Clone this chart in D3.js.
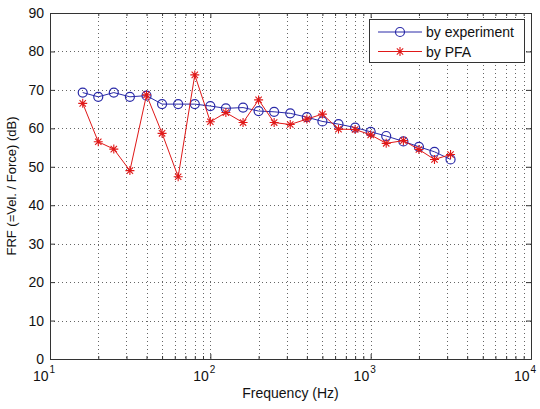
<!DOCTYPE html>
<html><head><meta charset="utf-8">
<script src="https://cdn.jsdelivr.net/npm/d3@7"></script>
<style>body{margin:0;background:#fff}text{font-family:"Liberation Sans",Arial,sans-serif}</style>
</head><body><svg id="c" width="540" height="409"></svg>
<script>
const freqs = [16,20,25,31.5,40,50,63,80,100,125,160,200,250,315,400,500,630,800,1000,1250,1600,2000,2500,3150];
const experiment = [69.3,68.2,69.3,68.2,68.5,66.3,66.3,66.3,65.8,65.2,65.4,64.5,64.3,63.9,62.9,61.8,61.1,60.2,59.1,58.0,56.6,55.2,53.9,51.9];
const pfa = [66.5,56.5,54.6,49.0,68.7,58.7,47.4,73.9,61.7,64.1,61.5,67.4,61.5,61.0,62.4,63.7,59.8,59.7,58.3,56.1,56.8,54.5,51.9,53.2];
const yTicks = [0,10,20,30,40,50,60,70,80,90];
const xMajor = [10,100,1000,10000];
const xExps = ["1","2","3","4"];
const seriesNames = ["by experiment","by PFA"];
const colors = ["#2a2aa8","#e01818"];

const L=50,R=531,T=13,B=359;
const svg=d3.select("#c");
const x=d3.scaleLog().domain([10,10000]).range([L,R]);
const y=d3.scaleLinear().domain([0,90]).range([B,T]);
const xMinor=[];
[10,100,1000].forEach(d=>{for(let k=2;k<=9;k++)xMinor.push(d*k);});

const grid=svg.append("g").attr("stroke","#666").attr("stroke-width",1).attr("stroke-dasharray","1,3");
xMinor.concat(xMajor.slice(1,3)).forEach(v=>{
  grid.append("line").attr("x1",Math.round(x(v))+0.5).attr("x2",Math.round(x(v))+0.5).attr("y1",T).attr("y2",B);
});
yTicks.slice(1,9).forEach(v=>{
  grid.append("line").attr("y1",Math.round(y(v))+0.5).attr("y2",Math.round(y(v))+0.5).attr("x1",L).attr("x2",R);
});

// axes with inward ticks
const axBottom=d3.axisBottom(x).tickValues(xMajor).tickSizeInner(-5).tickSizeOuter(0).tickFormat("");
const axBottomMinor=d3.axisBottom(x).tickValues(xMinor).tickSizeInner(-3).tickSizeOuter(0).tickFormat("");
const axTop=d3.axisTop(x).tickValues(xMajor).tickSizeInner(-5).tickSizeOuter(0).tickFormat("");
const axTopMinor=d3.axisTop(x).tickValues(xMinor).tickSizeInner(-3).tickSizeOuter(0).tickFormat("");
const axLeft=d3.axisLeft(y).tickValues(yTicks).tickSizeInner(-5).tickSizeOuter(0).tickFormat("");
const axRight=d3.axisRight(y).tickValues(yTicks).tickSizeInner(-5).tickSizeOuter(0).tickFormat("");
[[axBottom,`translate(0,${B})`],[axBottomMinor,`translate(0,${B})`],[axTop,`translate(0,${T})`],[axTopMinor,`translate(0,${T})`],[axLeft,`translate(${L},0)`],[axRight,`translate(${R},0)`]].forEach(([a,t])=>{
  const g=svg.append("g").attr("transform",t).call(a);
  g.selectAll("line").attr("stroke","#333");
  g.select(".domain").attr("stroke","#333");
});

// tick labels
svg.append("g").selectAll("text").data(yTicks).join("text")
  .attr("x",L-6).attr("y",d=>y(d)+5).attr("text-anchor","end").attr("font-size",14).attr("fill","#111").text(d=>d);
const xl=svg.append("g");
xMajor.forEach((v,i)=>{
  const t=xl.append("text").attr("x",x(v)-6).attr("y",B+22).attr("text-anchor","middle").attr("font-size",14).attr("fill","#111");
  t.append("tspan").text("10");
  t.append("tspan").attr("font-size",10).attr("dy",-8).attr("dx",1).text(xExps[i]);
});

svg.append("text").attr("x",(L+R)/2).attr("y",398).attr("text-anchor","middle").attr("font-size",14).attr("fill","#111").text("Frequency (Hz)");
svg.append("text").attr("transform",`translate(16,${(T+B)/2}) rotate(-90)`).attr("text-anchor","middle").attr("font-size",13).attr("fill","#111").text("FRF (=Vel. / Force) (dB)");

// lines
const line=d3.line().x(d=>x(d[0])).y(d=>y(d[1]));
const star=r=>{let p="";for(let k=0;k<4;k++){const a=k*Math.PI/4;const dx=r*Math.cos(a),dy=r*Math.sin(a);p+=`M${-dx},${-dy}L${dx},${dy}`;}return p;};
const expData=freqs.map((f,i)=>[f,experiment[i]]);
const pfaData=freqs.map((f,i)=>[f,pfa[i]]);
svg.append("path").datum(expData).attr("d",line).attr("fill","none").attr("stroke",colors[0]).attr("stroke-width",1);
svg.append("g").selectAll("circle").data(expData).join("circle").attr("cx",d=>x(d[0])).attr("cy",d=>y(d[1])).attr("r",4.5).attr("fill","none").attr("stroke",colors[0]).attr("stroke-width",1.2);
svg.append("path").datum(pfaData).attr("d",line).attr("fill","none").attr("stroke",colors[1]).attr("stroke-width",1);
svg.append("g").selectAll("path").data(pfaData).join("path").attr("transform",d=>`translate(${x(d[0])},${y(d[1])})`).attr("d",star(4.5)).attr("stroke",colors[1]).attr("stroke-width",1.1);

// legend
const lg=svg.append("g");
lg.append("rect").attr("x",369.5).attr("y",19.5).attr("width",155).attr("height",43).attr("fill","#fff").attr("stroke","#333");
seriesNames.forEach((n,i)=>{
  const yy=32+i*19.5;
  lg.append("line").attr("x1",378).attr("x2",422).attr("y1",yy).attr("y2",yy).attr("stroke",colors[i]);
  if(i===0) lg.append("circle").attr("cx",400).attr("cy",yy).attr("r",4.5).attr("fill","none").attr("stroke",colors[i]).attr("stroke-width",1.2);
  else lg.append("path").attr("transform",`translate(400,${yy})`).attr("d",star(4.5)).attr("stroke",colors[i]).attr("stroke-width",1.1);
  lg.append("text").attr("x",426).attr("y",yy+5).attr("font-size",14).attr("fill","#111").text(n);
});
</script></body></html>
